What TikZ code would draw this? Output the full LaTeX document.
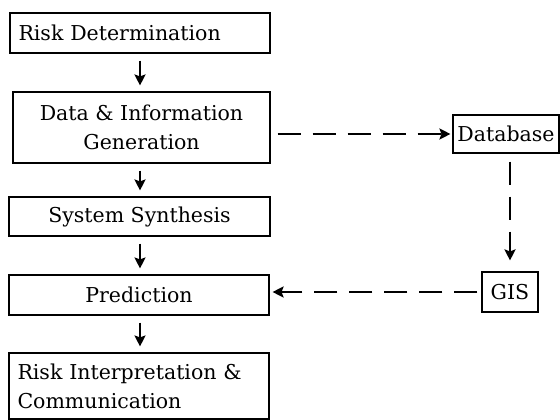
\documentclass[tikz,border=0pt]{standalone}
\usepackage{fontspec}
\setmainfont{DejaVu Serif}
\usetikzlibrary{arrows.meta}
\tikzstyle{box}=[shape=rectangle, draw=black, line width=1.1pt,
                  inner sep=0pt, align=center]
\tikzstyle{flow}=[line width=2pt, shorten <=7pt, shorten >=6pt]
\tikzstyle{link}=[line width=2.8pt, dash pattern=on 23pt off 12pt]

\begin{document}
\begin{tikzpicture}[x=1pt, y=-1pt, >={Stealth[length=11pt, width=11pt, inset=2pt]},
  font=\fontsize{20.5}{29}\selectfont]

\useasboundingbox (0,0) rectangle (560,420);

% nodes
\node[box, minimum width=260pt, minimum height=40pt, text width=243pt, align=left]
  (rd) at (140,33) {Risk Determination};
\node[box, minimum width=257pt, minimum height=71pt] (dig) at (141.5,127.5)
  {Data \& Information\\Generation};
\node[box, minimum width=261pt, minimum height=39pt] (ss) at (139.5,216.5)
  {System Synthesis};
\node[box, minimum width=260pt, minimum height=40pt] (pr) at (139,295) {Prediction};
\node[box, minimum width=260pt, minimum height=66pt, text width=243pt, align=left]
  (ric) at (139,386) {Risk Interpretation \&\\Communication};
\node[box, minimum width=106pt, minimum height=38pt] (db) at (506,134) {Database};
\node[box, minimum width=56pt, minimum height=40pt] (gis) at (510,292) {GIS};

% paths
\path[->, flow] (rd.south -| 140,0) edge (dig.north -| 140,0);
\path[->, flow] (dig.south -| 140,0) edge (ss.north -| 140,0);
\path[->, flow] (ss.south -| 140,0) edge (pr.north -| 140,0);
\path[->, flow] (pr.south -| 140,0) edge (ric.north -| 140,0);
\path[->, link] (db.west -| dig.east) edge[shorten <=7pt, shorten >=2pt] (db.west);
\path[->, link] (db.south -| gis.north) edge[shorten <=8pt, shorten >=11pt] (gis.north);
\path[->, link] (gis.west) edge[shorten <=4pt, shorten >=3pt] (gis.west -| pr.east);

\end{tikzpicture}
\end{document}
